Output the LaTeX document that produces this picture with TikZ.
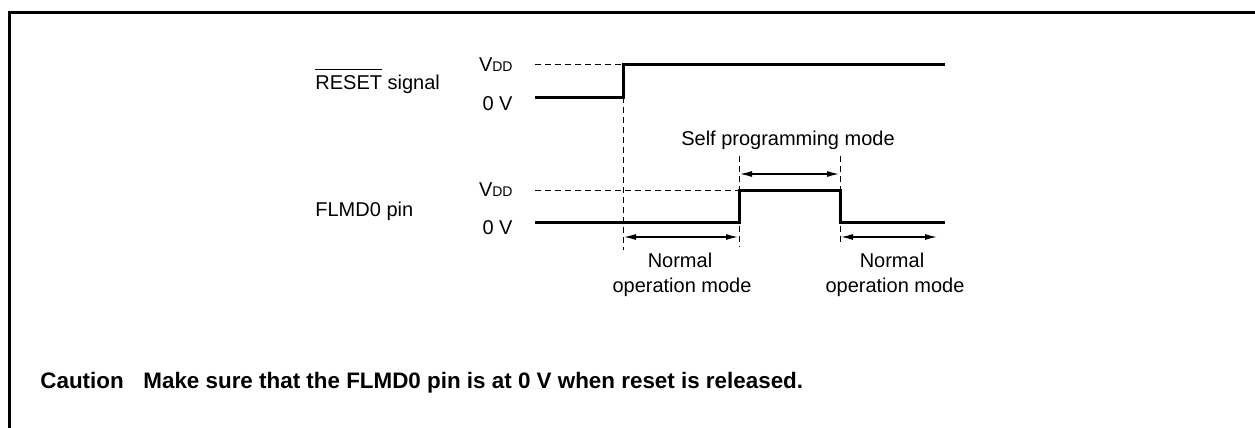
\documentclass[tikz,border=0pt]{standalone}
\usepackage{fontspec}
\setmainfont{Liberation Sans}
\usetikzlibrary{arrows.meta}
\newcommand\myovl[1]{\setbox0\hbox{#1}\rlap{\raisebox{10.2pt}{\rule{\wd0}{0.5pt}}}\box0\relax}
\newcommand\vdd{V\raisebox{0pt}{\fontsize{7}{8}\selectfont DD}}
\tikzset{
  sig/.style={line width=1.5pt, line join=miter},
  guide/.style={line width=0.5pt, dash pattern=on 3pt off 2pt},
  span/.style={line width=0.6pt, {Latex[length=6pt,width=3pt]}-{Latex[length=6pt,width=3pt]}},
  lbl/.style={inner sep=0pt, font=\fontsize{10}{12}\selectfont},
  cautfont/.style={inner sep=0pt, font=\fontsize{11.2}{13}\selectfont\bfseries},
  frame/.style={line width=1.5pt},
}
\begin{document}
\begin{tikzpicture}[x=0.5pt,y=-0.5pt]
\useasboundingbox (0,0) rectangle (1255,428);
% frame
\coordinate (fb) at (9,428);
\coordinate (fc) at (9,12);
\coordinate (fr) at (1255,12);
\draw[frame] (fb) -- (fc) -- (fr);

% labels
\node[lbl, anchor=base west] (rstlbl) at (315,90) {\myovl{RESET} signal};
\node[lbl, anchor=base west] (flmlbl) at (315,216) {FLMD0 pin};
\node[lbl, anchor=base east] (vdd1) at (513,71) {\vdd};
\node[lbl, anchor=base east] (zv1) at (513,110) {0 V};
\node[lbl, anchor=base east] (vdd2) at (513,196) {\vdd};
\node[lbl, anchor=base east] (zv2) at (513,234) {0 V};

% RESET waveform
\coordinate (r0) at (535,97);
\coordinate (r1) at (623,97);
\coordinate (r2) at (623,64);
\coordinate (r3) at (945,64);
\coordinate (rd0) at (535,64);
\coordinate (rv) at (623,250);
\draw[guide] (rd0) -- (r2);
\draw[guide] (r1) -- (rv);
\draw[sig] (r0) -- (r1) -- (r2) -- (r3);

% FLMD0 waveform
\coordinate (f0) at (535,222);
\coordinate (f1) at (739,222);
\coordinate (f2) at (739,190);
\coordinate (f3) at (840,190);
\coordinate (f4) at (840,222);
\coordinate (f5) at (945,222);
\coordinate (fd0) at (535,190);
\coordinate (v1t) at (739,156);
\coordinate (v1b) at (739,247);
\coordinate (v2t) at (840,156);
\coordinate (v2b) at (840,246);
\draw[guide] (fd0) -- (f2);
\draw[guide] (v1t) -- (v1b);
\draw[guide] (v2t) -- (v2b);
\draw[sig] (f0) -- (f1) -- (f2) -- (f3) -- (f4) -- (f5);

% spans
\coordinate (s1a) at (740,174);
\coordinate (s1b) at (839,174);
\coordinate (s2a) at (624,237);
\coordinate (s2b) at (738,237);
\coordinate (s3a) at (841,237);
\coordinate (s3b) at (937,237);
\draw[span] (s1a) -- (s1b);
\draw[span] (s2a) -- (s2b);
\draw[span] (s3a) -- (s3b);

\node[lbl, anchor=base] (selflbl) at (788,145) {Self programming mode};
\node[lbl, anchor=base] (n1a) at (680,267) {Normal};
\node[lbl, anchor=base] (n1b) at (682,292) {operation mode};
\node[lbl, anchor=base] (n2a) at (892,267) {Normal};
\node[lbl, anchor=base] (n2b) at (895,292) {operation mode};

% caution
\node[cautfont, anchor=base west] (caut) at (40,388) {Caution};
\node[cautfont, anchor=base west] (cautt) at (143,388) {Make sure that the FLMD0 pin is at 0 V when reset is released.};
\end{tikzpicture}
\end{document}
